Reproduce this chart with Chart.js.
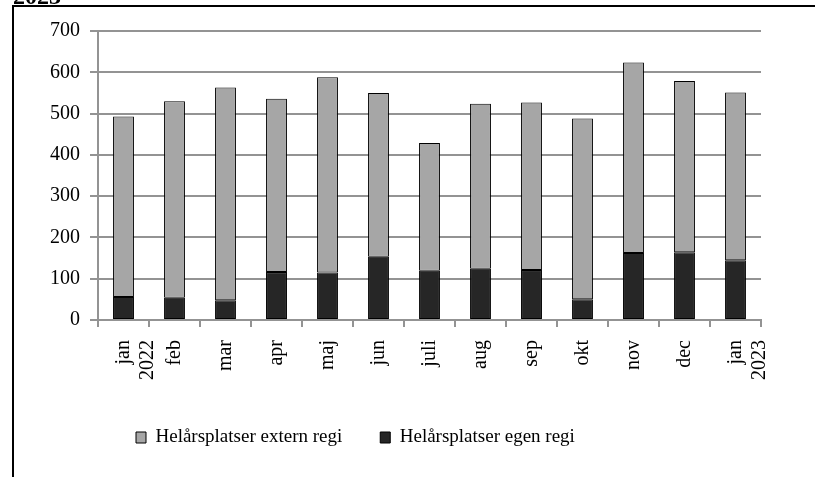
<!DOCTYPE html>
<html>
<head>
<meta charset="utf-8">
<script src="https://cdn.jsdelivr.net/npm/chart.js@4.4.1/dist/chart.umd.min.js"></script>
<style>
  html, body { margin: 0; padding: 0; background: #ffffff; }
  #wrap { width: 815px; height: 477px; position: relative; }
</style>
</head>
<body>
<div id="wrap"><canvas id="c" width="815" height="477"></canvas></div>
<script>
const categories = [["jan", "2022"], "feb", "mar", "apr", "maj", "jun", "juli", "aug", "sep", "okt", "nov", "dec", ["jan", "2023"]];
const egenRegi = [56, 54, 48, 116, 115, 153, 119, 124, 121, 50, 162, 164, 145];
const externRegi = [437, 476, 515, 420, 473, 397, 310, 400, 406, 438, 462, 415, 406];
const seriesNames = ["Helårsplatser egen regi", "Helårsplatser extern regi"];
const yTicks = [0, 100, 200, 300, 400, 500, 600, 700];
const topText = "2023";

const FONT = "'Liberation Serif', 'Times New Roman', serif";
const GRID = '#939393';

const framePlugin = {
  id: 'frame',
  afterDraw(chart) {
    const ctx = chart.ctx;
    ctx.save();
    ctx.strokeStyle = '#000';
    ctx.lineWidth = 2;
    ctx.beginPath();
    ctx.moveTo(12, 6);
    ctx.lineTo(815, 6);
    ctx.moveTo(13, 6);
    ctx.lineTo(13, 477);
    ctx.stroke();
    ctx.fillStyle = '#000';
    ctx.font = "bold 24px " + FONT;
    ctx.textBaseline = 'alphabetic';
    ctx.textAlign = 'left';
    ctx.fillText(topText, 13, 4);
    ctx.restore();
  }
};

new Chart(document.getElementById('c'), {
  type: 'bar',
  data: {
    labels: categories,
    datasets: [
      {
        label: seriesNames[0],
        data: egenRegi,
        backgroundColor: '#262626',
        borderColor: '#000000',
        borderWidth: 1,
        borderSkipped: false,
        barPercentage: 0.41,
        categoryPercentage: 1.0
      },
      {
        label: seriesNames[1],
        data: externRegi,
        backgroundColor: '#a6a6a6',
        borderColor: '#000000',
        borderWidth: 1,
        borderSkipped: false,
        barPercentage: 0.41,
        categoryPercentage: 1.0
      }
    ]
  },
  options: {
    responsive: false,
    animation: false,
    layout: { padding: { left: 20, right: 54, top: 31, bottom: 20 } },
    plugins: {
      title: { display: false },
      tooltip: { enabled: false },
      legend: {
        display: true,
        position: 'bottom',
        align: 'start',
        fullSize: false,
        reverse: true,
        labels: {
          color: '#000',
          font: { family: FONT, size: 19 },
          boxWidth: 10,
          boxHeight: 11,
          padding: 38
        }
      }
    },
    scales: {
      x: {
        stacked: true,
        afterFit(scale) { scale.height = 70; },
        grid: {
          display: true,
          drawOnChartArea: false,
          drawTicks: true,
          tickLength: 7,
          color: GRID,
          lineWidth: 2
        },
        border: { display: true, color: GRID, width: 2 },
        ticks: {
          color: '#000',
          font: { family: FONT, size: 20 },
          minRotation: 90,
          maxRotation: 90,
          autoSkip: false,
          padding: 13
        }
      },
      y: {
        stacked: true,
        min: 0,
        max: 700,
        afterFit(scale) { scale.width = 78; },
        afterBuildTicks(scale) { scale.ticks = yTicks.map(v => ({ value: v })); },
        grid: {
          display: true,
          drawTicks: true,
          tickLength: 8,
          color: GRID,
          lineWidth: 2
        },
        border: { display: true, color: GRID, width: 2 },
        ticks: {
          color: '#000',
          font: { family: FONT, size: 20 },
          padding: 10
        }
      }
    }
  },
  plugins: [framePlugin]
});
</script>
</body>
</html>
